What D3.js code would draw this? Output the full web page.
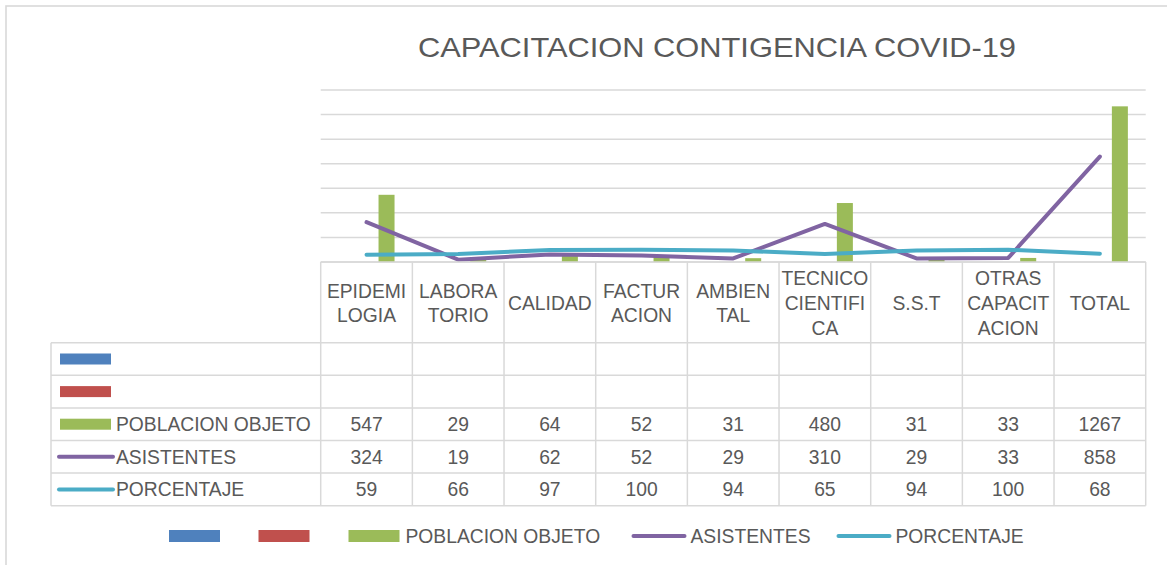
<!DOCTYPE html>
<html>
<head>
<meta charset="utf-8">
<script src="https://cdn.jsdelivr.net/npm/d3@7"></script>
<style>
  html, body { margin: 0; padding: 0; background: #fff; }
  svg { display: block; }
  text { font-family: "Liberation Sans", Arial, sans-serif; fill: #595959; }
</style>
</head>
<body>
<svg id="chart" width="1167" height="565"></svg>
<script>
// ---- data ----
const title = "CAPACITACION CONTIGENCIA COVID-19";
const categories = ["EPIDEMIOLOGIA","LABORATORIO","CALIDAD","FACTURACION","AMBIENTAL","TECNICO CIENTIFICA","S.S.T","OTRAS CAPACITACION","TOTAL"];
const categoryLabelLines = [["EPIDEMI","LOGIA"],["LABORA","TORIO"],["CALIDAD"],["FACTUR","ACION"],["AMBIEN","TAL"],["TECNICO","CIENTIFI","CA"],["S.S.T"],["OTRAS","CAPACIT","ACION"],["TOTAL"]];
const seriesNames = ["", "", "POBLACION OBJETO", "ASISTENTES", "PORCENTAJE"];
const seriesKinds = ["bar", "bar", "bar", "line", "line"];
const seriesColors = ["#4F81BD", "#C0504D", "#9BBB59", "#8064A2", "#4BACC6"];
const serie1 = [null,null,null,null,null,null,null,null,null];
const serie2 = [null,null,null,null,null,null,null,null,null];
const poblacionObjeto = [547,29,64,52,31,480,31,33,1267];
const asistentes = [324,19,62,52,29,310,29,33,858];
const porcentaje = [59,66,97,100,94,65,94,100,68];
const yTicks = [0,200,400,600,800,1000,1200,1400];

const seriesValues = [serie1, serie2, poblacionObjeto, asistentes, porcentaje];

// ---- layout ----
const svg = d3.select("#chart");
const plotLeft = 320.7, plotRight = 1145.7, plotTop = 90, plotBottom = 262;
const tableLeft = 51;
const headerBottom = 342.7;
const rowH = 32.6;
const gridColor = "#d9d9d9";

// outer chart border (extends beyond the right/bottom of the picture)
svg.append("rect").attr("x", 6).attr("y", 6).attr("width", 1190).attr("height", 600)
  .attr("fill", "none").attr("stroke", "#d9d9d9").attr("stroke-width", 1.6);

const x = d3.scaleBand().domain(categories).range([plotLeft, plotRight]).padding(0);
const bw = x.bandwidth();
const y = d3.scaleLinear().domain([0, 1400]).range([plotBottom, plotTop]);

const barIdx = seriesKinds.map((k, i) => k === "bar" ? i : -1).filter(i => i >= 0);
const x1 = d3.scaleBand().domain(barIdx).range([bw * 0.1945, bw * 0.8055]).paddingInner(0.2).paddingOuter(0);

// title
svg.append("text").attr("x", 717).attr("y", 57).attr("text-anchor", "middle")
  .attr("font-size", 28).attr("textLength", 598).attr("lengthAdjust", "spacingAndGlyphs")
  .text(title);

// gridlines
svg.append("g").selectAll("line").data(yTicks).join("line")
  .attr("x1", plotLeft).attr("x2", plotRight)
  .attr("y1", d => y(d)).attr("y2", d => y(d))
  .attr("stroke", gridColor).attr("stroke-width", 1.5);

// bars
barIdx.forEach(si => {
  const vals = seriesValues[si];
  svg.append("g").selectAll("rect").data(categories.map((c, i) => ({c, v: vals[i]})).filter(d => d.v != null))
    .join("rect")
    .attr("x", d => x(d.c) + x1(si))
    .attr("width", x1.bandwidth())
    .attr("y", d => y(d.v))
    .attr("height", d => y(0) - y(d.v))
    .attr("fill", seriesColors[si]);
});

// lines
seriesKinds.forEach((k, si) => {
  if (k !== "line") return;
  const vals = seriesValues[si];
  const line = d3.line().x((d, i) => x(categories[i]) + bw / 2).y(d => y(d));
  svg.append("path").datum(vals).attr("d", line)
    .attr("fill", "none").attr("stroke", seriesColors[si]).attr("stroke-width", 4)
    .attr("stroke-linecap", "round").attr("stroke-linejoin", "round");
});

// ---- data table ----
const nRows = seriesNames.length;
const tableBottom = headerBottom + nRows * rowH;
const tg = svg.append("g");
// top line of header (axis)
tg.append("line").attr("x1", plotLeft).attr("x2", plotRight).attr("y1", plotBottom).attr("y2", plotBottom)
  .attr("stroke", gridColor).attr("stroke-width", 1.5);
// horizontal row lines
d3.range(nRows + 1).forEach(r => {
  const yy = headerBottom + r * rowH;
  tg.append("line").attr("x1", tableLeft).attr("x2", plotRight).attr("y1", yy).attr("y2", yy)
    .attr("stroke", gridColor).attr("stroke-width", 1.5);
});
// vertical lines
tg.append("line").attr("x1", tableLeft).attr("x2", tableLeft).attr("y1", headerBottom).attr("y2", tableBottom)
  .attr("stroke", gridColor).attr("stroke-width", 1.5);
categories.forEach((c, i) => {
  tg.append("line").attr("x1", x(c)).attr("x2", x(c)).attr("y1", plotBottom).attr("y2", tableBottom)
    .attr("stroke", gridColor).attr("stroke-width", 1.5);
});
tg.append("line").attr("x1", plotRight).attr("x2", plotRight).attr("y1", plotBottom).attr("y2", tableBottom)
  .attr("stroke", gridColor).attr("stroke-width", 1.5);

// header labels
const fs = 19.3;
const headerMid = (plotBottom + headerBottom) / 2 + 1;
categories.forEach((c, i) => {
  const lines = categoryLabelLines[i];
  const lh = lines.length === 3 ? 25.3 : 24;
  const t = tg.append("text").attr("text-anchor", "middle").attr("font-size", fs);
  lines.forEach((ln, j) => {
    const cy = headerMid + (j - (lines.length - 1) / 2) * lh;
    t.append("tspan").attr("x", x(c) + bw / 2).attr("y", cy + 6.8).text(ln);
  });
});

// row keys + values
seriesNames.forEach((name, si) => {
  const cy = headerBottom + si * rowH + rowH / 2;
  if (seriesKinds[si] === "bar") {
    tg.append("rect").attr("x", 60).attr("y", cy - 5.5).attr("width", 51).attr("height", 11).attr("fill", seriesColors[si]);
  } else {
    tg.append("line").attr("x1", 59).attr("x2", 113).attr("y1", cy).attr("y2", cy)
      .attr("stroke", seriesColors[si]).attr("stroke-width", 4).attr("stroke-linecap", "round");
  }
  if (name) {
    tg.append("text").attr("x", 116).attr("y", cy + 6.8).attr("font-size", fs).text(name);
  }
  seriesValues[si].forEach((v, i) => {
    if (v == null) return;
    tg.append("text").attr("x", x(categories[i]) + bw / 2).attr("y", cy + 7)
      .attr("text-anchor", "middle").attr("font-size", fs).text(v);
  });
});

// ---- bottom legend ----
const legendItems = [
  {i: 0, x: 169}, {i: 1, x: 258.5}, {i: 2, x: 348.5}, {i: 3, x: 632.5}, {i: 4, x: 837.5}
];
const lg = svg.append("g");
const ly = 536;
legendItems.forEach(it => {
  const si = it.i;
  if (seriesKinds[si] === "bar") {
    lg.append("rect").attr("x", it.x).attr("y", ly - 6).attr("width", 51).attr("height", 12).attr("fill", seriesColors[si]);
  } else {
    lg.append("line").attr("x1", it.x + 1).attr("x2", it.x + 52).attr("y1", ly).attr("y2", ly)
      .attr("stroke", seriesColors[si]).attr("stroke-width", 4).attr("stroke-linecap", "round");
  }
  if (seriesNames[si]) {
    lg.append("text").attr("x", it.x + (seriesKinds[si] === "bar" ? 57 : 58)).attr("y", ly + 6.8)
      .attr("font-size", fs).text(seriesNames[si]);
  }
});
</script>
</body>
</html>
